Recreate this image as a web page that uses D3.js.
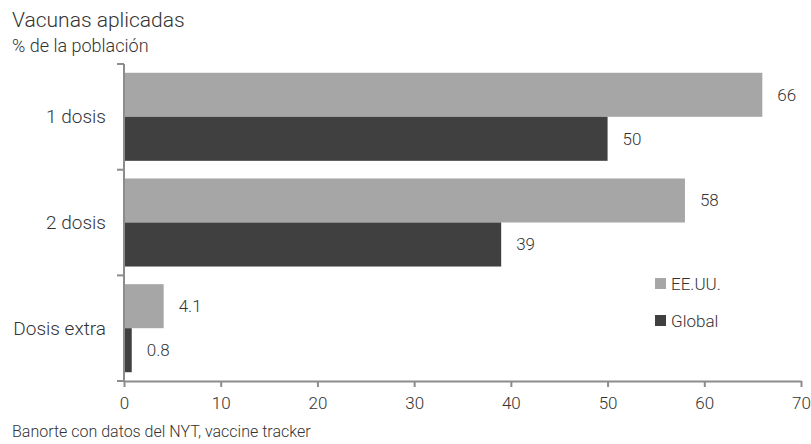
<!DOCTYPE html>
<html>
<head>
<meta charset="utf-8">
<script src="https://cdn.jsdelivr.net/npm/d3@7"></script>
<style>
  body { margin: 0; background: #fff; }
  text { font-family: "Roboto", "Liberation Sans", sans-serif; font-weight: 300; fill: #333; }
</style>
</head>
<body>
<div id="chart"></div>
<script>
// data
const categories = ['1 dosis', '2 dosis', 'Dosis extra'];
const seriesNames = ['EE.UU.', 'Global'];
const usaValues = [66, 58, 4.1];
const globalValues = [50, 39, 0.8];
const xTicks = [0, 10, 20, 30, 40, 50, 60, 70];

const colors = {'EE.UU.': '#a6a6a6', 'Global': '#404040'};

const width = 811, height = 444;
const margin = {top: 64, right: 10, bottom: 63, left: 124};

const svg = d3.select('#chart').append('svg')
    .attr('width', width)
    .attr('height', height);

const rows = categories.map((c, i) => ({
  cat: c,
  vals: [
    {name: seriesNames[0], v: usaValues[i]},
    {name: seriesNames[1], v: globalValues[i]}
  ]
}));

const x = d3.scaleLinear().domain([0, 70]).range([margin.left, 801]);
const y = d3.scaleBand().domain(categories)
    .range([margin.top, height - margin.bottom])
    .paddingInner(0.167).paddingOuter(0.083);
const ySub = d3.scaleBand().domain(seriesNames).range([0, y.bandwidth()]);

// titles
svg.append('text').attr('x', 12).attr('y', 27)
    .style('font-size', '21px').text('Vacunas aplicadas');
svg.append('text').attr('x', 12).attr('y', 52)
    .style('font-size', '18px').text('% de la población');

// bars
const groups = svg.append('g').selectAll('g')
    .data(rows)
  .join('g')
    .attr('transform', d => `translate(0,${y(d.cat)})`);

groups.selectAll('rect')
    .data(d => d.vals)
  .join('rect')
    .attr('x', x(0))
    .attr('y', d => ySub(d.name))
    .attr('width', d => x(d.v) - x(0))
    .attr('height', ySub.bandwidth())
    .attr('fill', d => colors[d.name]);

groups.selectAll('.val')
    .data(d => d.vals)
  .join('text')
    .attr('class', 'val')
    .attr('x', d => x(d.v) + 15)
    .attr('y', d => ySub(d.name) + ySub.bandwidth() / 2)
    .attr('dy', '.35em')
    .style('font-size', '17px')
    .text(d => d.v);

// y axis: line + ticks at band boundaries
const axisColor = '#8c8c8c';
const yAxisG = svg.append('g');
yAxisG.append('line')
    .attr('x1', x(0)).attr('x2', x(0))
    .attr('y1', margin.top).attr('y2', height - margin.bottom)
    .attr('stroke', axisColor).attr('stroke-width', 2);
const bounds = categories.map(c => y(c) - y.step() * y.paddingOuter()).concat([height - margin.bottom]);
yAxisG.selectAll('.ytick')
    .data(bounds)
  .join('line')
    .attr('x1', x(0) - 7).attr('x2', x(0))
    .attr('y1', d => d).attr('y2', d => d)
    .attr('stroke', axisColor).attr('stroke-width', 2);
yAxisG.selectAll('.cat')
    .data(categories)
  .join('text')
    .attr('x', 106)
    .attr('y', d => y(d) + y.bandwidth() / 2)
    .attr('dy', '.35em')
    .attr('text-anchor', 'end')
    .style('font-size', '19px')
    .text(d => d);

// x axis
const xAxis = d3.axisBottom(x).tickValues(xTicks).tickSize(6).tickPadding(10).tickSizeOuter(0);
const xg = svg.append('g')
    .attr('transform', `translate(0,${height - margin.bottom})`)
    .call(xAxis);
xg.select('.domain').attr('stroke', axisColor).attr('stroke-width', 2);
xg.selectAll('.tick line').attr('stroke', axisColor).attr('stroke-width', 2);
xg.selectAll('.tick text')
    .style('font-size', '17px')
    .style('font-family', 'Roboto, sans-serif')
    .style('font-weight', 300)
    .attr('fill', '#333');

// legend
const legend = svg.append('g').attr('transform', 'translate(655,278)');
seriesNames.forEach((s, i) => {
  const g = legend.append('g').attr('transform', `translate(0,${i * 37})`);
  g.append('rect').attr('width', 11).attr('height', 11).attr('fill', colors[s]);
  g.append('text').attr('x', 16).attr('y', 6).attr('dy', '.35em')
      .style('font-size', '17px').text(s);
});

// source
svg.append('text').attr('x', 12).attr('y', 437)
    .style('font-size', '16px').text('Banorte con datos del NYT, vaccine tracker');
</script>
</body>
</html>
